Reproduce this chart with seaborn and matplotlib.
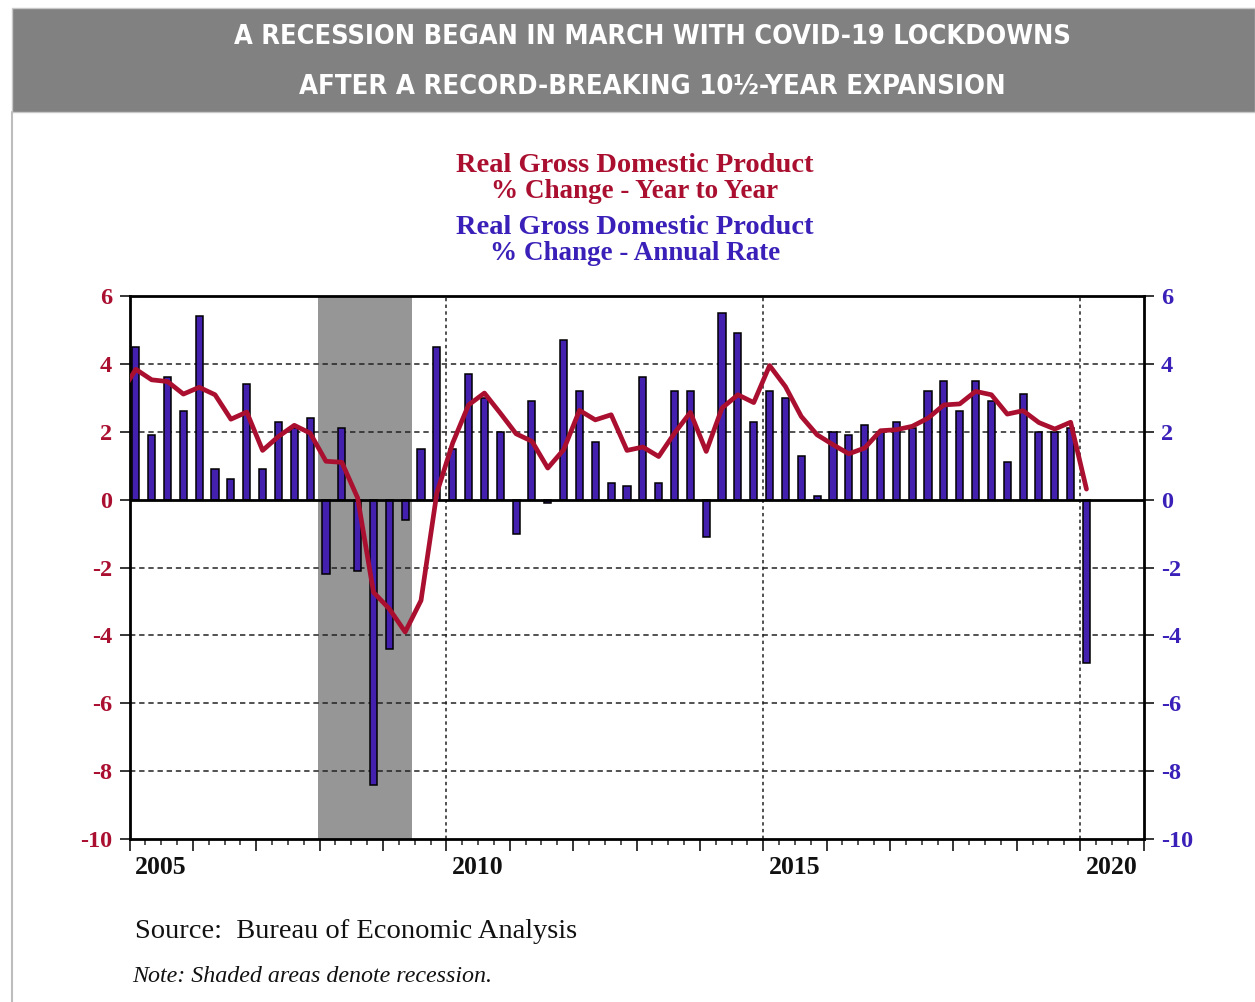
import numpy as np
import pandas as pd
import matplotlib
matplotlib.use("Agg")
import matplotlib.pyplot as plt
import seaborn as sns
from matplotlib import font_manager
from matplotlib.font_manager import FontProperties
from matplotlib.patches import Rectangle
from matplotlib.lines import Line2D

# ---------------- data ----------------
# Real GDP, % change, annual rate (quarterly bars, 2005Q1 .. 2020Q1)
annual_rate = [4.5, 1.9, 3.6, 2.6,
               5.4, 0.9, 0.6, 3.4,
               0.9, 2.3, 2.1, 2.4,
               -2.2, 2.1, -2.1, -8.4,
               -4.4, -0.6, 1.5, 4.5,
               1.5, 3.7, 3.0, 2.0,
               -1.0, 2.9, -0.1, 4.7,
               3.2, 1.7, 0.5, 0.4,
               3.6, 0.5, 3.2, 3.2,
               -1.1, 5.5, 4.9, 2.3,
               3.2, 3.0, 1.3, 0.1,
               2.0, 1.9, 2.2, 2.0,
               2.3, 2.1, 3.2, 3.5,
               2.6, 3.5, 2.9, 1.1,
               3.1, 2.0, 2.0, 2.1,
               -4.8]
bar_start_year = 2005

# Real GDP, % change, year to year (line, 2004Q4 .. 2020Q1)
year_to_year = [3.1,
                3.84, 3.53, 3.48, 3.11,
                3.31, 3.09, 2.37, 2.58,
                1.45, 1.86, 2.19, 1.96,
                1.13, 1.10, 0.05, -2.73,
                -3.22, -3.90, -2.97, 0.2,
                1.67, 2.79, 3.14, 2.55,
                1.94, 1.72, 0.93, 1.47,
                2.63, 2.35, 2.50, 1.45,
                1.55, 1.27, 1.96, 2.57,
                1.42, 2.70, 3.09, 2.86,
                3.95, 3.33, 2.45, 1.91,
                1.62, 1.35, 1.52, 2.03,
                2.06, 2.16, 2.40, 2.79,
                2.82, 3.19, 3.09, 2.52,
                2.62, 2.27, 2.08, 2.28,
                0.31]
line_start_year = 2004.75

recession = (2007.97, 2009.46)
year_labels = [2005, 2010, 2015, 2020]
y_ticks = [6, 4, 2, 0, -2, -4, -6, -8, -10]
grid_y = [4, 2, -2, -4, -6, -8]
grid_x = [2010, 2015, 2020]

banner_lines = ["A RECESSION BEGAN IN MARCH WITH COVID-19 LOCKDOWNS",
                "AFTER A RECORD-BREAKING 10\u00bd-YEAR EXPANSION"]
title_red = ["Real Gross Domestic Product", "% Change - Year to Year"]
title_blue = ["Real Gross Domestic Product", "% Change - Annual Rate"]
source_text = "Source:  Bureau of Economic Analysis"
note_text = "Note: Shaded areas denote recession."

# ---------------- style ----------------
RED = "#AA0F30"
BLUE = "#3A20B8"
BAR = "#4321AE"
SERIF = "Liberation Serif"

sns.set_style("white")
plt.rcParams["axes.unicode_minus"] = False
plt.rcParams["font.family"] = [SERIF, "DejaVu Serif"]

# find a bold condensed sans font for the banner, if one is installed
banner_fp = None
for f in font_manager.fontManager.ttflist:
    fn = f.fname.lower()
    if ("condensed" in fn or "narrow" in fn or "condensed" in str(f.stretch)) \
            and ("bold" in fn or str(f.weight) in ("bold", "700", "heavy", "800")) \
            and "oblique" not in fn and "italic" not in fn and "serif" not in fn.replace("sans", ""):
        banner_fp = FontProperties(fname=f.fname)
        break
if banner_fp is None:
    banner_fp = FontProperties(family="Roboto", weight="bold")

W, H = 1255, 1002
fig = plt.figure(figsize=(W / 100, H / 100), dpi=100)
fig.patch.set_facecolor("white")

def fy(py):
    return 1 - py / H

# ---------------- banner ----------------
fig.patches.append(Rectangle((12 / W, fy(112)), (W - 12) / W, 104 / H,
                             transform=fig.transFigure, facecolor="#818181",
                             edgecolor="#c8c8c8", linewidth=1.0, zorder=0))
fig.lines.append(Line2D([12 / W, 12 / W], [fy(112), 0], transform=fig.transFigure,
                        color="#bdbdbd", linewidth=1.5))

renderer = fig.canvas.get_renderer()
target_w = [832, 705]
for i, (txt, ypx) in enumerate(zip(banner_lines, [37, 86])):
    fp = banner_fp.copy()
    fp.set_size(30)
    t = fig.text(652 / W, fy(ypx), txt, ha="center", va="center", color="white",
                 fontproperties=fp)
    w = t.get_window_extent(renderer).width
    t.set_fontsize(min(31, 30 * target_w[i] / w))

# ---------------- chart titles ----------------
for txt, ypx, fs in zip(title_red, [165, 192], [20.5, 19.5]):
    fig.text(635 / W, fy(ypx), txt, ha="center", va="center", color=RED,
             family=SERIF, weight="bold", fontsize=fs)
for txt, ypx, fs in zip(title_blue, [227, 254], [20.5, 19.5]):
    fig.text(635 / W, fy(ypx), txt, ha="center", va="center", color=BLUE,
             family=SERIF, weight="bold", fontsize=fs)

# ---------------- axes ----------------
ax = fig.add_axes([129.5 / W, fy(839), (1143.5 - 129.5) / W, (839 - 296) / H])
ax.set_facecolor("white")

bar_x = [bar_start_year + i / 4 + 0.1 for i in range(len(annual_rate))]
line_x = [line_start_year + i / 4 + 0.1 for i in range(len(year_to_year))]
df_bars = pd.DataFrame({"date": bar_x, "rate": annual_rate})
df_line = pd.DataFrame({"date": line_x, "yoy": year_to_year})

ax.axvspan(recession[0], recession[1], color="#969696", zorder=0.5, linewidth=0)
for yv in grid_y:
    ax.axhline(yv, color="#222222", lw=1.1, ls=(0, (3.5, 2.5)), zorder=1.5)
for xv in grid_x:
    ax.axvline(xv, color="#222222", lw=1.1, ls=(0, (2.2, 2.2)), zorder=1.5)

sns.barplot(data=df_bars, x="date", y="rate", native_scale=True, width=0.45,
            color=BAR, saturation=1, edgecolor="black", linewidth=1.1,
            errorbar=None, ax=ax, zorder=2)
sns.lineplot(data=df_line, x="date", y="yoy", color=RED, linewidth=3.4,
             ax=ax, zorder=4, sort=True)
ax.axhline(0, color="black", lw=2.0, zorder=3)

ax.set_xlim(2005, 2021)
ax.set_ylim(-10, 6)
ax.set_xlabel("")
ax.set_ylabel("")

for s in ax.spines.values():
    s.set_visible(True)
    s.set_color("black")
    s.set_linewidth(2.0)

ax.set_xticks(np.arange(2005, 2022, 1))
ax.set_xticks(np.arange(2005, 2021.01, 0.25), minor=True)
ax.set_xticklabels([])
ax.tick_params(axis="x", which="major", direction="out", length=8.5, width=1.3,
               bottom=True, top=False, labelbottom=False)
ax.tick_params(axis="x", which="minor", direction="out", length=4.5, width=1.1,
               bottom=True, top=False)
for yr in year_labels:
    ax.text(yr + 0.5, -0.053, str(yr), transform=ax.get_xaxis_transform(),
            ha="center", va="center", family=SERIF, weight="bold",
            fontsize=18.5, color="#111111")

ax.set_yticks(y_ticks)
ax.set_yticklabels([str(v) for v in y_ticks])
ax.tick_params(axis="y", which="major", direction="out", length=7.5, width=1.3,
               left=True, right=True, labelleft=True, labelright=True, pad=5,
               labelsize=17.5)
for tick in ax.yaxis.get_major_ticks():
    tick.label1.set_color(RED)
    tick.label1.set_fontweight("bold")
    tick.label2.set_color(BLUE)
    tick.label2.set_fontweight("bold")

# ---------------- footer ----------------
fig.text(135 / W, fy(932), source_text, ha="left", va="center", family=SERIF,
         fontsize=20.5, color="#111111")
fig.text(132 / W, fy(976), note_text, ha="left", va="center", family=SERIF,
         style="italic", fontsize=17.3, color="#111111")

fig.savefig("out.png", dpi=100, facecolor="white")
